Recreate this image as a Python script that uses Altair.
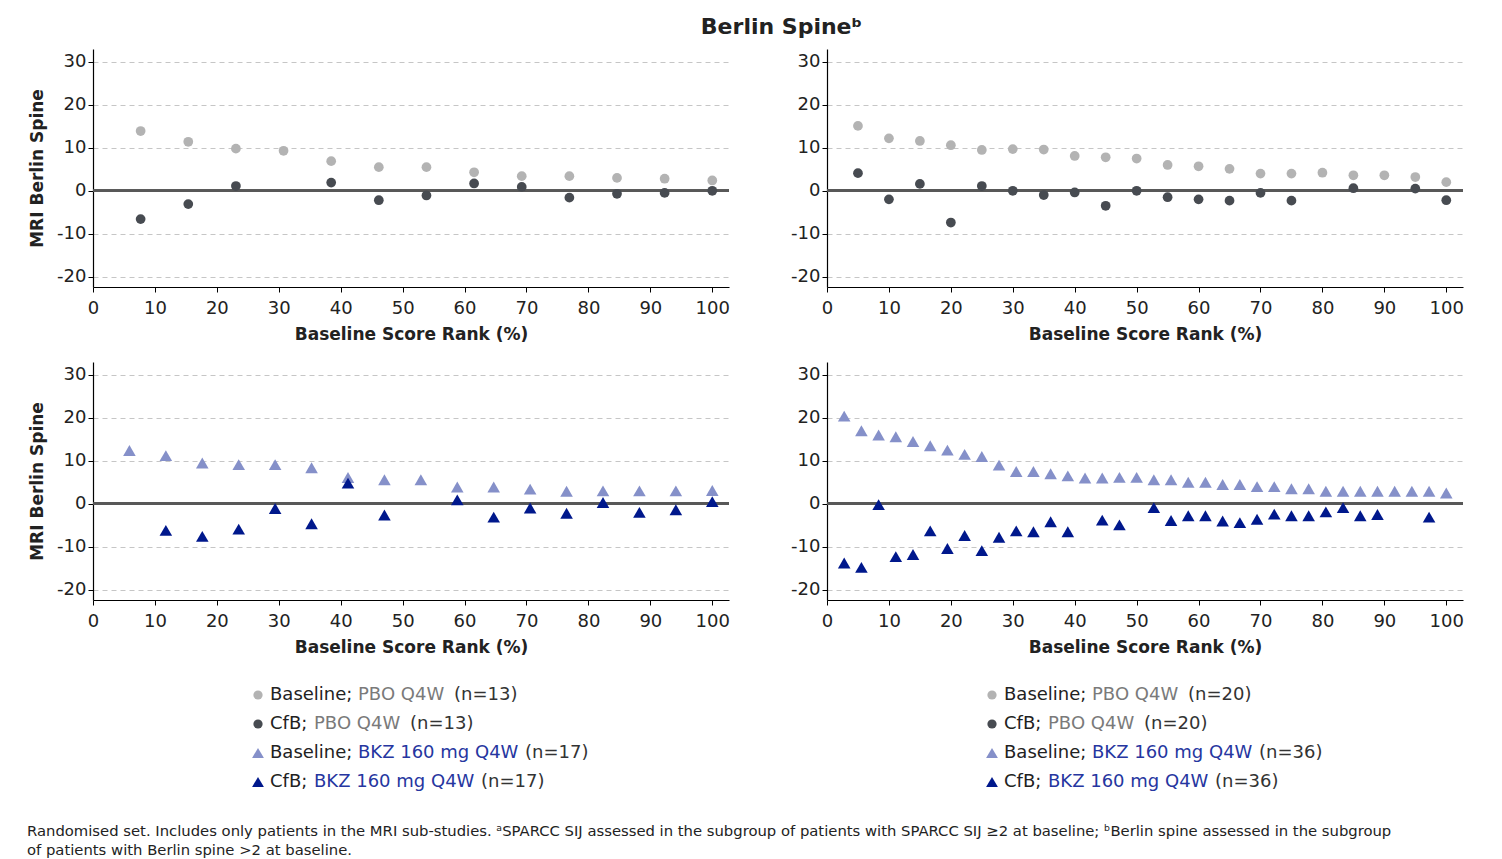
import altair as alt
import pandas as pd

FONT = "DejaVu Sans"
TXT = "#222222"

# ---------------- data ----------------
# Top-left: PBO Q4W (n=13)
tl_base = [13.9, 11.4, 9.8, 9.3, 6.9, 5.5, 5.5, 4.3, 3.4, 3.4, 3.0, 2.8, 2.4]
tl_cfb = [-6.6, -3.1, 1.1, None, 1.9, -2.2, -1.1, 1.7, 0.9, -1.6, -0.7, -0.5, 0.0]

# Top-right: PBO Q4W (n=20)
tr_base = [15.1, 12.2, 11.6, 10.6, 9.5, 9.7, 9.6, 8.1, 7.8, 7.5,
           6.0, 5.7, 5.1, 4.0, 4.0, 4.2, 3.6, 3.6, 3.2, 2.0]
tr_cfb = [4.1, -2.0, 1.6, -7.4, 1.1, 0.0, -1.0, -0.4, -3.5, 0.0,
          -1.5, -2.0, -2.3, -0.5, -2.3, None, 0.6, None, 0.5, -2.2]

# Bottom-left: BKZ 160 mg Q4W (n=17)
bl_base = [12.4, 11.2, 9.5, 9.1, 9.1, 8.4, 6.1, 5.6, 5.6, 3.9, 3.9, 3.4,
           2.9, 3.0, 3.0, 3.0, 3.1]
bl_cfb = [None, -6.2, -7.6, -5.9, -1.1, -4.65, 4.8, -2.6, None, 0.9, -3.1,
          -1.0, -2.2, 0.3, -2.0, -1.4, 0.5]

# Bottom-right: BKZ 160 mg Q4W (n=36)
br_base = [20.4, 17.0, 16.0, 15.6, 14.5, 13.5, 12.5, 11.5, 11.0, 9.0, 7.5, 7.5,
           7.0, 6.5, 6.0, 6.0, 6.15, 6.15, 5.6, 5.6, 5.0, 5.0, 4.5, 4.5,
           4.0, 4.0, 3.5, 3.5, 2.9, 2.9, 2.9, 2.9, 2.9, 2.9, 2.9, 2.5]
br_cfb = [-13.8, -14.8, -0.2, -12.3, -11.8, -6.3, -10.4, -7.4, -10.9, -7.8, -6.3, -6.5,
          -4.2, -6.5, None, -3.8, -4.9, None, -0.9, -3.9, -2.8, -2.8, -4.0, -4.4,
          -3.6, -2.4, -2.8, -2.8, -1.9, -0.9, -2.8, -2.5, None, None, -3.1, None]

x_ticks = list(range(0, 101, 10))
y_ticks = [-20, -10, 0, 10, 20, 30]

legend_prefix = ["Baseline;", "CfB;", "Baseline;", "CfB;"]
legend_group = ["PBO Q4W", "PBO Q4W", "BKZ 160 mg Q4W", "BKZ 160 mg Q4W"]
legend_n_left = [13, 13, 17, 17]
legend_n_right = [20, 20, 36, 36]

footnote = [
    "Randomised set. Includes only patients in the MRI sub-studies. \u1d43SPARCC SIJ assessed in the subgroup "
    "of patients with SPARCC SIJ \u22652 at baseline; \u1d47Berlin spine assessed in the subgroup",
    "of patients with Berlin spine >2 at baseline.",
]

# ---------------- styles ----------------
C_BASE_PBO = "#b3b3b3"
C_CFB_PBO = "#474b51"
C_BASE_BKZ = "#8590c9"
C_CFB_BKZ = "#00188c"
C_TXT_PBO = "#7a7a7a"
C_TXT_BKZ = "#2636a0"

PW, PH = 636, 238
XDOM = [0, 102.7]
YDOM = [-22.4, 33.0]


def series_df(vals):
    n = len(vals)
    return pd.DataFrame(
        [{"rank": 100 * (i + 1) / n, "value": v} for i, v in enumerate(vals) if v is not None]
    )


def panel(base, cfb, shape, colors, size, ytitle):
    yaxis = dict(values=y_ticks, grid=True, gridDash=[5, 4], gridColor="#c6c6c6",
                 gridWidth=1, labelFlush=False,
                 labelExpr="datum.value < 0 ? '-' + abs(datum.value) : '' + datum.value",
                 titlePadding=10)
    x = alt.X("rank:Q", scale=alt.Scale(domain=XDOM, nice=False, zero=False),
              axis=alt.Axis(values=x_ticks, grid=False, title="Baseline Score Rank (%)",
                            labelFlush=False, labelPadding=7, titlePadding=9))
    if ytitle:
        y = alt.Y("value:Q", scale=alt.Scale(domain=YDOM, nice=False),
                  axis=alt.Axis(title=ytitle, **yaxis))
    else:
        y = alt.Y("value:Q", scale=alt.Scale(domain=YDOM, nice=False),
                  axis=alt.Axis(title=None, **yaxis))
    zero = alt.Chart(series_df(base)).mark_rule(color="#585858", strokeWidth=1.8).encode(
        y=alt.datum(0))
    b = alt.Chart(series_df(base)).mark_point(
        filled=True, shape=shape, size=size, opacity=1, color=colors[0]).encode(x=x, y=y)
    c = alt.Chart(series_df(cfb)).mark_point(
        filled=True, shape=shape, size=size, opacity=1, color=colors[1]).encode(x=x, y=y)
    return alt.layer(zero, b, c).properties(width=PW, height=PH)


p_tl = panel(tl_base, tl_cfb, "circle", [C_BASE_PBO, C_CFB_PBO], 95, "MRI Berlin Spine")
p_tr = panel(tr_base, tr_cfb, "circle", [C_BASE_PBO, C_CFB_PBO], 95, None)
p_bl = panel(bl_base, bl_cfb, "triangle-up", [C_BASE_BKZ, C_CFB_BKZ], 158, "MRI Berlin Spine")
p_br = panel(br_base, br_cfb, "triangle-up", [C_BASE_BKZ, C_CFB_BKZ], 158, None)

# ---------------- legend + footnote (pixel layout, origin = left plot edge) ----------------
LEG_X = [165, 899]
ROW_Y0, ROW_DY = 20, 29
PREFIX_W = {"Baseline;": 88, "CfB;": 44}
GROUP_W = {"PBO Q4W": 96, "BKZ 160 mg Q4W": 167}
SYM_SHAPE = ["circle", "circle", "triangle-up", "triangle-up"]
SYM_COLOR = [C_BASE_PBO, C_CFB_PBO, C_BASE_BKZ, C_CFB_BKZ]
SYM_SIZE = [85, 85, 140, 140]

sym_rows, txt_rows = [], []
for bidx, ns in enumerate([legend_n_left, legend_n_right]):
    for k in range(4):
        y = ROW_Y0 + ROW_DY * k
        x0 = LEG_X[bidx]
        sym_rows.append({"px": x0, "py": y, "shape": SYM_SHAPE[k], "col": SYM_COLOR[k],
                         "sz": SYM_SIZE[k]})
        tx = x0 + 12
        gx = tx + PREFIX_W[legend_prefix[k]]
        nx = gx + GROUP_W[legend_group[k]]
        gcol = C_TXT_PBO if legend_group[k].startswith("PBO") else C_TXT_BKZ
        txt_rows.append({"px": tx, "py": y, "t": legend_prefix[k], "col": TXT, "fs": 18})
        txt_rows.append({"px": gx, "py": y, "t": legend_group[k], "col": gcol, "fs": 18})
        txt_rows.append({"px": nx, "py": y, "t": f"(n={ns[k]})", "col": "#333333", "fs": 18})

for j, line in enumerate(footnote):
    txt_rows.append({"px": -66, "py": 157 + 19 * j, "t": line, "col": TXT, "fs": 14.8})

sym_df = pd.DataFrame(sym_rows)
txt_df = pd.DataFrame(txt_rows)

leg_sym = alt.Chart(sym_df).mark_point(filled=True, opacity=1).encode(
    x=alt.X("px:Q", scale=None, axis=None),
    y=alt.Y("py:Q", scale=None, axis=None),
    shape=alt.Shape("shape:N", scale=None, legend=None),
    color=alt.Color("col:N", scale=None, legend=None),
    size=alt.Size("sz:Q", scale=None, legend=None),
)
leg_txt = alt.Chart(txt_df).mark_text(align="left", baseline="middle", font=FONT).encode(
    x=alt.X("px:Q", scale=None, axis=None),
    y=alt.Y("py:Q", scale=None, axis=None),
    text="t:N",
    color=alt.Color("col:N", scale=None, legend=None),
    size=alt.Size("fs:Q", scale=None, legend=None),
)
legend = alt.layer(leg_sym, leg_txt).properties(width=1300, height=176)

top = alt.hconcat(p_tl, p_tr, spacing=60)
bottom = alt.hconcat(p_bl, p_br, spacing=60)

chart = alt.vconcat(top, bottom, legend, spacing=20).properties(
    title=alt.TitleParams("Berlin Spine\u1d47", fontSize=22, font=FONT, fontWeight="bold",
                          color=TXT, anchor="middle", dx=36, offset=10),
    padding={"left": 19, "top": 8, "right": 5, "bottom": 0},
).configure_view(strokeWidth=0).configure_axis(
    domainColor="#000000", domainWidth=1.2, tickColor="#000000", tickSize=5, tickWidth=1,
    labelFont=FONT, labelFontSize=18, labelColor=TXT,
    titleFont=FONT, titleFontSize=17, titleFontWeight="bold", titleColor=TXT,
).configure_text(font=FONT)

chart.save("out.html", embed_options={"renderer": "svg", "actions": False})
